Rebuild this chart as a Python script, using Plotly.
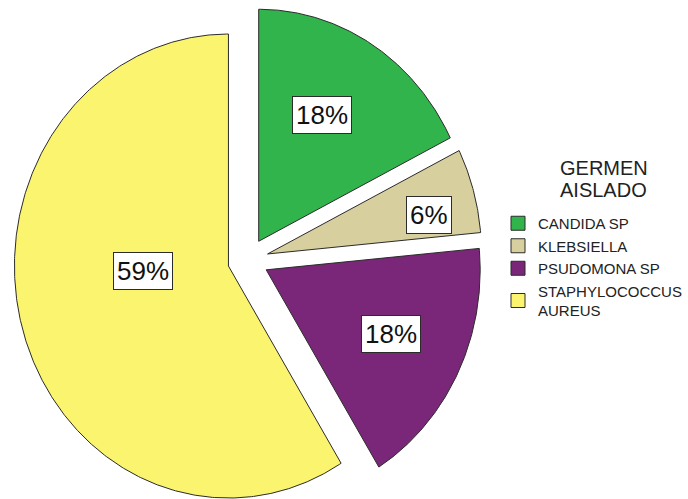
import math
import plotly.graph_objects as go

# Isolated germ counts (percentages are taken of the total)
germs = ["CANDIDA SP", "KLEBSIELLA", "PSUDOMONA SP", "STAPHYLOCOCCUS<br>AUREUS"]
counts = [3, 1, 3, 10]
legend_title_lines = ["GERMEN", "AISLADO"]

# Styling
FONT = "Liberation Sans, Arial, sans-serif"
colors = ["#31b44b", "#d7cf9e", "#7b2779", "#fbf46e"]
edge_color = "#2b2b2b"
explode = 0.095                       # pull of every wedge, in radius units
label_radius = [0.62, 0.775, 0.645, 0.40]
label_turn = [-3.5, 3.4, -1.2, 13.0]  # degrees off the wedge's mid-angle

total = sum(counts)
percents = [round(100 * c / total) for c in counts]

fig = go.Figure()

start = 0.0
for name, c, pct, col, lr, lt in zip(germs, counts, percents, colors,
                                     label_radius, label_turn):
    sweep = 360.0 * c / total
    mid = start + sweep / 2
    # apex of the exploded wedge (angles clockwise from 12 o'clock)
    ax = explode * math.sin(math.radians(mid))
    ay = explode * math.cos(math.radians(mid))
    n = max(int(sweep * 2), 8)
    xs, ys = [ax], [ay]
    for i in range(n + 1):
        a = math.radians(start + sweep * i / n)
        xs.append(ax + math.sin(a))
        ys.append(ay + math.cos(a))
    xs.append(ax)
    ys.append(ay)
    group = name.replace("<br>", " ")
    fig.add_trace(go.Scatter(
        x=xs, y=ys, mode="lines", fill="toself", fillcolor=col,
        line=dict(color=edge_color, width=1),
        name=group, legendgroup=group, showlegend=False,
        hoverinfo="text", hoveron="fills",
        text=f"{group}: {c} ({pct}%)",
    ))
    # legend swatch
    fig.add_trace(go.Scatter(
        x=[None], y=[None], mode="markers", name=name, legendgroup=group,
        marker=dict(symbol="square", size=14, color=col,
                    line=dict(color=edge_color, width=1)),
    ))
    # boxed percentage label
    la = math.radians(mid + lt)
    fig.add_annotation(
        x=ax + lr * math.sin(la), y=ay + lr * math.cos(la),
        text=f"{pct}%", showarrow=False,
        font=dict(family=FONT, size=26, color="#111111"),
        bgcolor="white", bordercolor=edge_color, borderwidth=1, borderpad=3,
    )
    start += sweep

# Pixel scale: 214 px per unit horizontally, 232 px per unit vertically
W, H = 688, 499
cx, cy = 248, 260
sx, sy = 214.0, 232.0

# Legend heading, one line per annotation for tight line spacing
for i, line in enumerate(legend_title_lines):
    fig.add_annotation(
        xref="paper", yref="paper",
        x=603.5 / W, y=1 - (167.5 + 22 * i) / H,
        xanchor="center", yanchor="middle",
        text=line, showarrow=False,
        font=dict(family=FONT, size=20, color="#222222"),
    )

fig.update_layout(
    width=W, height=H,
    margin=dict(l=0, r=0, t=0, b=0, autoexpand=False),
    paper_bgcolor="white", plot_bgcolor="white",
    xaxis=dict(range=[-cx / sx, (W - cx) / sx], visible=False, fixedrange=True),
    yaxis=dict(range=[-(H - cy) / sy, cy / sy], visible=False, fixedrange=True),
    showlegend=True,
    legend=dict(
        x=498 / W, y=1 - 207 / H, xanchor="left", yanchor="top",
        font=dict(family=FONT, size=15, color="#222222"),
        itemwidth=30, tracegroupgap=0,
        bgcolor="rgba(0,0,0,0)",
    ),
)

fig.write_html("out.html")
